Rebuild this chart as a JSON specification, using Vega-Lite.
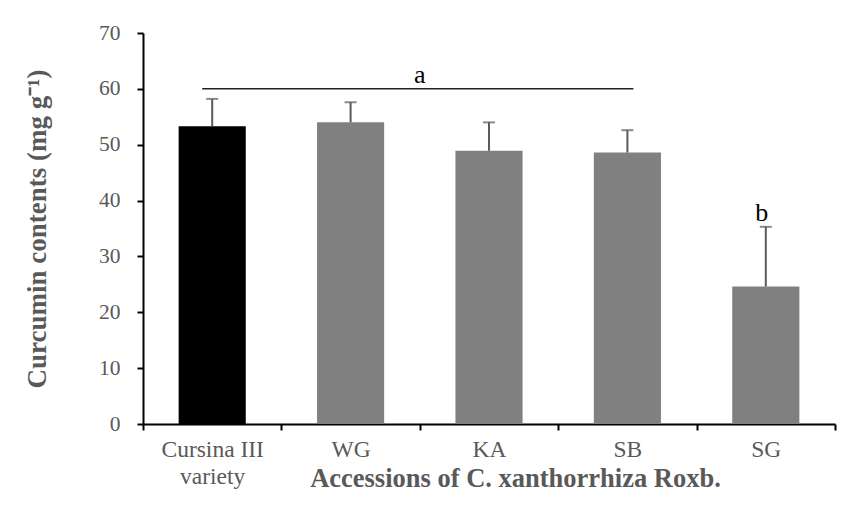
{
  "$schema": "https://vega.github.io/schema/vega-lite/v6.json",
  "width": 692,
  "height": 391,
  "autosize": {"type": "none"},
  "padding": {"left": 143, "top": 33, "right": 13, "bottom": 87},
  "background": "white",
  "config": {
    "view": {"stroke": null},
    "font": "Liberation Serif",
    "axis": {"grid": false, "domainColor": "black", "domainWidth": 2, "tickColor": "black", "tickWidth": 2, "tickSize": 6, "labelColor": "#595959", "titleColor": "#595959", "labelFont": "Liberation Serif", "titleFont": "Liberation Serif", "titleFontWeight": "bold"}
  },
  "datasets": {
    "bars": [
      {"acc": "Cursina III variety", "grp": "variety", "mean": 53.3, "upper": 58.2},
      {"acc": "WG", "grp": "accession", "mean": 54.0, "upper": 57.6},
      {"acc": "KA", "grp": "accession", "mean": 48.9, "upper": 54.0},
      {"acc": "SB", "grp": "accession", "mean": 48.6, "upper": 52.6},
      {"acc": "SG", "grp": "accession", "mean": 24.6, "upper": 35.3}
    ],
    "line": [
      {"from": "Cursina III variety", "to": "SB", "y": 60}
    ],
    "letterA": [
      {"acc": "WG", "y": 62.5, "letter": "a"}
    ],
    "letterB": [
      {"acc": "SG", "y": 37.8, "letter": "b"}
    ]
  },
  "layer": [
    {
      "data": {"name": "bars"},
      "mark": {"type": "bar", "width": {"band": 0.485}},
      "encoding": {
        "x": {
          "field": "acc", "type": "nominal", "sort": null,
          "scale": {"paddingInner": 0, "paddingOuter": 0},
          "axis": {
            "title": "Accessions of C. xanthorrhiza Roxb.",
            "titleFontSize": 26.5,
            "titleX": 372,
            "titleY": 54,
            "titleBaseline": "middle",
            "titleAlign": "center",
            "labelAngle": 0,
            "labelFontSize": 23.5,
            "labelPadding": 7,
            "labelLineHeight": 27,
            "labelBaseline": "top",
            "tickBand": "extent",
            "labelExpr": "datum.label == 'Cursina III variety' ? ['Cursina III', 'variety'] : datum.label"
          }
        },
        "y": {
          "field": "mean", "type": "quantitative",
          "scale": {"domain": [0, 70], "nice": false},
          "axis": {
            "title": "Curcumin contents (mg g⁻¹)",
            "titleFontSize": 27,
            "titlePadding": 47,
            "values": [0, 10, 20, 30, 40, 50, 60, 70],
            "labelFontSize": 21.5,
            "labelPadding": 17
          }
        },
        "color": {
          "field": "grp", "type": "nominal",
          "scale": {"domain": ["variety", "accession"], "range": ["#000000", "#808080"]},
          "legend": null
        }
      }
    },
    {
      "data": {"name": "bars"},
      "mark": {"type": "rule", "color": "#5a5a5a", "strokeWidth": 2},
      "encoding": {
        "x": {"field": "acc", "type": "nominal", "sort": null},
        "y": {"field": "mean", "type": "quantitative"},
        "y2": {"field": "upper"}
      }
    },
    {
      "data": {"name": "bars"},
      "mark": {"type": "tick", "color": "#5a5a5a", "thickness": 2, "size": 12, "orient": "horizontal"},
      "encoding": {
        "x": {"field": "acc", "type": "nominal", "sort": null},
        "y": {"field": "upper", "type": "quantitative"}
      }
    },
    {
      "data": {"name": "line"},
      "mark": {"type": "rule", "color": "#222222", "strokeWidth": 1.5, "xOffset": -10, "x2Offset": 6},
      "encoding": {
        "x": {"field": "from", "type": "nominal", "sort": null},
        "x2": {"field": "to"},
        "y": {"field": "y", "type": "quantitative"}
      }
    },
    {
      "data": {"name": "letterA"},
      "mark": {"type": "text", "fontSize": 26, "color": "black", "baseline": "middle", "align": "center"},
      "encoding": {
        "x": {"field": "acc", "type": "nominal", "sort": null, "bandPosition": 1},
        "y": {"field": "y", "type": "quantitative"},
        "text": {"field": "letter"}
      }
    },
    {
      "data": {"name": "letterB"},
      "mark": {"type": "text", "fontSize": 26, "color": "black", "baseline": "middle", "align": "center", "dx": -4},
      "encoding": {
        "x": {"field": "acc", "type": "nominal", "sort": null},
        "y": {"field": "y", "type": "quantitative"},
        "text": {"field": "letter"}
      }
    }
  ]
}
